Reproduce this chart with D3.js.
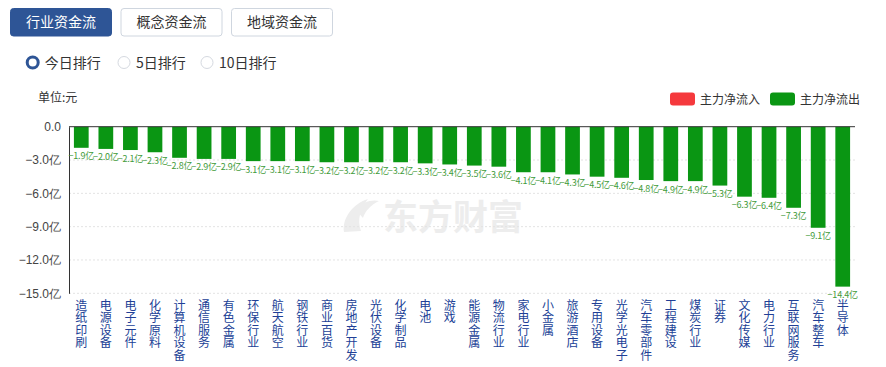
<!DOCTYPE html>
<html><head><meta charset="utf-8">
<script src="https://cdn.jsdelivr.net/npm/d3@7/dist/d3.min.js"></script>
<style>
html,body{margin:0;padding:0;background:#fff;}
svg{display:block;font-family:"Noto Sans CJK SC","Microsoft YaHei",sans-serif;}
</style></head>
<body>
<svg id="chart" width="886" height="367"></svg>
<script>
const categories = ["造纸印刷","电源设备","电子元件","化学原料","计算机设备","通信服务","有色金属","环保行业","航天航空","钢铁行业","商业百货","房地产开发","光伏设备","化学制品","电池","游戏","能源金属","物流行业","家电行业","小金属","旅游酒店","专用设备","光学光电子","汽车零部件","工程建设","煤炭行业","证券","文化传媒","电力行业","互联网服务","汽车整车","半导体"];
const values = [-1.9,-2.0,-2.1,-2.3,-2.8,-2.9,-2.9,-3.1,-3.1,-3.1,-3.2,-3.2,-3.2,-3.2,-3.3,-3.4,-3.5,-3.6,-4.1,-4.1,-4.3,-4.5,-4.6,-4.8,-4.9,-4.9,-5.3,-6.3,-6.4,-7.3,-9.1,-14.4];
const yTicks = [0,-3,-6,-9,-12,-15];
const tabs = ["行业资金流","概念资金流","地域资金流"];
const radios = ["今日排行","5日排行","10日排行"];
const legendItems = [{name:"主力净流入",color:"#f5393d"},{name:"主力净流出",color:"#0a9613"}];

const svg = d3.select("#chart");
const green = "#0a9613";

// tabs
const tabX = d3.scaleOrdinal().domain(tabs).range([10,120.5,231]);
tabs.forEach((t,i)=>{
  const g = svg.append("g").attr("transform",`translate(${tabX(t)},8)`);
  g.append("rect").attr("x",0.5).attr("y",0.5).attr("width",101).attr("height",27.5).attr("rx",3)
    .attr("fill", i===0 ? "#2e5596" : "#fff").attr("stroke", i===0 ? "#2e5596" : "#cfd6df");
  g.append("text").attr("x",51).attr("y",19).attr("text-anchor","middle").attr("font-size",14)
    .attr("fill", i===0 ? "#fff" : "#333").text(t);
});

// radios
const radioX = [32.7,124,207];
radios.forEach((r,i)=>{
  const cx = radioX[i];
  if(i===0){
    svg.append("circle").attr("cx",cx).attr("cy",62.5).attr("r",5.5).attr("fill","#fff").attr("stroke","#2e5596").attr("stroke-width",3);
  } else {
    svg.append("circle").attr("cx",cx).attr("cy",62.5).attr("r",6).attr("fill","#fff").attr("stroke","#d5d9e0").attr("stroke-width",1);
  }
  svg.append("text").attr("x",cx+12).attr("y",67.5).attr("font-size",14).attr("fill","#333").text(r);
});

// unit
svg.append("text").attr("x",38).attr("y",102).attr("font-size",12).attr("fill","#333").text("单位:元");

// legend
const legX = [670,770];
legendItems.forEach((l,i)=>{
  svg.append("rect").attr("x",legX[i]).attr("y",92.5).attr("width",25).attr("height",13).attr("rx",3).attr("fill",l.color);
  svg.append("text").attr("x",legX[i]+30).attr("y",103.5).attr("font-size",12).attr("fill","#333").text(l.name);
});

// scales
const x = d3.scaleBand().domain(categories).range([69,855]).paddingInner(0.4).paddingOuter(0.2);
const y = d3.scaleLinear().domain([-15,0]).range([293.3,126.7]);

// watermark
const wm = svg.append("g");
wm.append("text").attr("x",453).attr("y",230).attr("text-anchor","middle").attr("font-size",35)
  .attr("font-weight","bold").attr("fill","#ededed").text("东方财富");
wm.append("path").attr("d","M344,232 C342,219 352,204 368,199 C360,209 357,220 361,231 Z M356,210 C362,202 372,199 379,201 C371,205 365,211 363,218 Z")
  .attr("fill","#ededed");

// grid
svg.append("g").selectAll("line").data(yTicks.filter(d=>d!==0)).join("line")
  .attr("x1",69).attr("x2",855).attr("y1",d=>y(d)).attr("y2",d=>y(d))
  .attr("stroke","#e3e3e3").attr("stroke-dasharray","2,2");

// y axis labels
const yAxis = d3.axisLeft(y).tickValues(yTicks).tickSize(0).tickPadding(8)
  .tickFormat(d=> d===0 ? "0.0" : d3.format(".1f")(d)+"亿");
const ya = svg.append("g").attr("transform","translate(69,0)").call(yAxis);
ya.select(".domain").attr("stroke","#333");
ya.selectAll("text").attr("font-size",12).attr("fill","#444").attr("font-family",null);

// bars
svg.append("g").selectAll("rect").data(values).join("rect")
  .attr("x",(d,i)=>x(categories[i])).attr("width",x.bandwidth())
  .attr("y",y(0)).attr("height",d=>y(d)-y(0)).attr("fill",green);

// zero line
svg.append("line").attr("x1",69).attr("x2",855).attr("y1",y(0)).attr("y2",y(0)).attr("stroke","#333");

// value labels
svg.append("g").selectAll("text").data(values).join("text")
  .attr("x",(d,i)=>x(categories[i])+x.bandwidth()/2)
  .attr("y",d=>y(d)+11.5)
  .attr("text-anchor","middle").attr("font-size",9).attr("letter-spacing",-0.2).attr("fill","#3f9b3a")
  .text(d=>d3.format(".1f")(d)+"亿");

// x labels (vertical, one character per line)
const xl = svg.append("g").selectAll("text").data(categories).join("text")
  .attr("font-size",12).attr("fill","#213f96").attr("text-anchor","middle");
xl.each(function(c){
  const t = d3.select(this);
  const cx = x(c)+x.bandwidth()/2;
  Array.from(c).forEach((ch,k)=>{
    t.append("tspan").attr("x",cx).attr("y",309.5+k*12.5).text(ch);
  });
});
</script>
</body></html>
